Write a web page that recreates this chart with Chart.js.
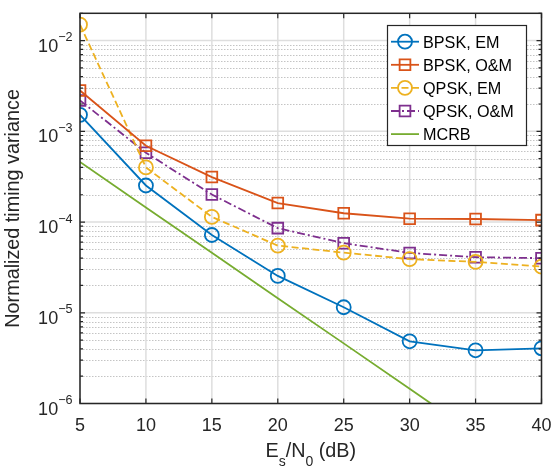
<!DOCTYPE html>
<html><head><meta charset="utf-8">
<script src="https://cdn.jsdelivr.net/npm/chart.js@4/dist/chart.umd.min.js"></script>
<style>html,body{margin:0;padding:0;background:#fff}#wrap{width:553px;height:467px;position:relative}</style>
</head><body><div id="wrap"><canvas id="c" width="553" height="467"></canvas></div>
<script>
// ---- data ----
const snrDb   = [5, 10, 15, 20, 25, 30, 35, 40];
const bpskEM  = [1.52e-3, 2.53e-4, 7.2e-5, 2.55e-5, 1.15e-5, 4.85e-6, 3.86e-6, 4.06e-6];
const bpskOM  = [2.82e-3, 6.93e-4, 3.13e-4, 1.62e-4, 1.25e-4, 1.09e-4, 1.08e-4, 1.05e-4];
const qpskEM  = [1.50e-2, 4.0e-4, 1.14e-4, 5.5e-5, 4.6e-5, 3.9e-5, 3.64e-5, 3.23e-5];
const qpskOM  = [2.19e-3, 5.81e-4, 2.01e-4, 8.57e-5, 5.85e-5, 4.57e-5, 4.10e-5, 4.0e-5];
const mcrb    = [4.6e-4, 1.45e-4, 4.6e-5, 1.45e-5, 4.6e-6, 1.45e-6, 4.6e-7, 1.45e-7];
const seriesNames = ['BPSK, EM', 'BPSK, O&M', 'QPSK, EM', 'QPSK, O&M', 'MCRB'];
const xTickValues = [5, 10, 15, 20, 25, 30, 35, 40];
const yTickExponents = [-6, -5, -4, -3, -2];
const xTitleParts = [['E', 0], ['s', 1], ['/N', 0], ['0', 1], [' (dB)', 0]];
const yTitle = 'Normalized timing variance';

// ---- styling ----
const FONT = "'Liberation Sans', Arial, Helvetica, sans-serif";
const TXT = '#262626';
const styles = [
  {color:'#0072BD', marker:'circle', dash:[]},
  {color:'#D95319', marker:'rect', dash:[]},
  {color:'#EDB120', marker:'circle', dash:[7,3.5]},
  {color:'#7E2F8E', marker:'rect', dash:[8,3,2,3]},
  {color:'#77AC30', marker:null, dash:[]}
];
const allSeries = [bpskEM, bpskOM, qpskEM, qpskOM, mcrb];
const LW = 1.8, CIRC_R = 7, RECT_R = 7.6;

const datasets = allSeries.map((vals, i) => ({
  label: seriesNames[i],
  data: snrDb.map((x, j) => ({x: x, y: vals[j]})),
  borderColor: styles[i].color,
  backgroundColor: 'rgba(0,0,0,0)',
  borderWidth: LW,
  borderDash: styles[i].dash,
  pointStyle: styles[i].marker || 'circle',
  pointRadius: styles[i].marker ? (styles[i].marker === 'rect' ? RECT_R : CIRC_R) : 0,
  pointBorderWidth: LW,
  pointBorderColor: styles[i].color,
  pointBackgroundColor: 'rgba(0,0,0,0)',
  pointHoverRadius: styles[i].marker ? (styles[i].marker === 'rect' ? RECT_R : CIRC_R) : 0,
  tension: 0,
  fill: false,
  clip: styles[i].marker ? undefined : 0
}));

function marker(ctx, type, x, y, color) {
  if (!type) return;
  ctx.save();
  ctx.strokeStyle = color; ctx.lineWidth = LW; ctx.setLineDash([]);
  ctx.beginPath();
  if (type === 'circle') ctx.arc(x, y, CIRC_R, 0, Math.PI * 2);
  else { const s = Math.SQRT1_2 * RECT_R; ctx.rect(x - s, y - s, 2 * s, 2 * s); }
  ctx.stroke();
  ctx.restore();
}

const matlabAxes = {
  id: 'matlabAxes',
  beforeDatasetsDraw(chart) {
    const {ctx, chartArea: a, scales: {x: xs, y: ys}} = chart;
    ctx.save();
    // minor y grid (dotted)
    ctx.strokeStyle = '#c4c4c4'; ctx.lineWidth = 1; ctx.setLineDash([1.5, 1.5]);
    yTickExponents.forEach(e => {
      for (let m = 2; m <= 9; m++) {
        const v = m * Math.pow(10, e);
        if (v >= ys.max) continue;
        const y = Math.round(ys.getPixelForValue(v)) + 0.5;
        ctx.beginPath(); ctx.moveTo(a.left, y); ctx.lineTo(a.right, y); ctx.stroke();
      }
    });
    // major grid (solid)
    ctx.setLineDash([]); ctx.strokeStyle = '#dedede'; ctx.lineWidth = 1.5;
    yTickExponents.forEach(e => {
      const y = ys.getPixelForValue(Math.pow(10, e));
      ctx.beginPath(); ctx.moveTo(a.left, y); ctx.lineTo(a.right, y); ctx.stroke();
    });
    xTickValues.forEach(t => {
      const x = xs.getPixelForValue(t);
      ctx.beginPath(); ctx.moveTo(x, a.top); ctx.lineTo(x, a.bottom); ctx.stroke();
    });
    ctx.restore();
  },
  afterDatasetsDraw(chart) {
    const {ctx, chartArea: a, scales: {x: xs, y: ys}} = chart;
    ctx.save();
    ctx.strokeStyle = TXT; ctx.lineWidth = 1.5; ctx.setLineDash([]);
    ctx.strokeRect(a.left, a.top, a.right - a.left, a.bottom - a.top);
    ctx.lineWidth = 1.2;
    // x ticks (bottom and top, inward)
    xTickValues.forEach(t => {
      const x = xs.getPixelForValue(t);
      ctx.beginPath();
      ctx.moveTo(x, a.bottom); ctx.lineTo(x, a.bottom - 5);
      ctx.moveTo(x, a.top); ctx.lineTo(x, a.top + 5);
      ctx.stroke();
    });
    // y ticks major and minor (left and right, inward)
    yTickExponents.forEach(e => {
      for (let m = 1; m <= 9; m++) {
        const v = m * Math.pow(10, e);
        if (v > ys.max) continue;
        const y = ys.getPixelForValue(v);
        const len = m === 1 ? 5 : 3;
        ctx.beginPath();
        ctx.moveTo(a.left, y); ctx.lineTo(a.left + len, y);
        ctx.moveTo(a.right, y); ctx.lineTo(a.right - len, y);
        ctx.stroke();
      }
    });
    // tick labels
    ctx.fillStyle = TXT;
    ctx.font = '18px ' + FONT; ctx.textAlign = 'center'; ctx.textBaseline = 'alphabetic';
    xTickValues.forEach(t => ctx.fillText(String(t), xs.getPixelForValue(t), a.bottom + 27.5));
    yTickExponents.forEach(e => {
      const y = ys.getPixelForValue(Math.pow(10, e));
      const sup = '\u2212' + Math.abs(e);
      ctx.textAlign = 'right';
      ctx.font = '12.6px ' + FONT;
      const rx = a.left - 7.5;
      ctx.fillText(sup, rx, y + 0.5);
      const w = ctx.measureText(sup).width;
      ctx.font = '18px ' + FONT;
      ctx.fillText('10', rx - w, y + 11);
    });
    // x title with subscripts
    const big = '19.8px ' + FONT, small = '14px ' + FONT;
    let total = 0;
    xTitleParts.forEach(([s, sub]) => { ctx.font = sub ? small : big; total += ctx.measureText(s).width; });
    let cx = (a.left + a.right) / 2 - total / 2;
    const by = a.bottom + 53.2;
    ctx.textAlign = 'left';
    xTitleParts.forEach(([s, sub]) => {
      ctx.font = sub ? small : big;
      ctx.fillText(s, cx, by + (sub ? 9 : 0));
      cx += ctx.measureText(s).width;
    });
    // y title
    ctx.save();
    ctx.translate(19, (a.top + a.bottom) / 2);
    ctx.rotate(-Math.PI / 2);
    ctx.font = big; ctx.textAlign = 'center';
    ctx.fillText(yTitle, 0, 0);
    ctx.restore();
    ctx.restore();
  },
  afterDraw(chart) {
    const ctx = chart.ctx;
    ctx.save();
    const L = 387, T = 25, R = 527, B = 146;
    ctx.fillStyle = '#fff'; ctx.fillRect(L, T, R - L, B - T);
    ctx.strokeStyle = TXT; ctx.lineWidth = 1.2; ctx.strokeRect(L + 0.5, T + 0.5, R - L - 1, B - T - 1);
    ctx.font = '16.2px ' + FONT; ctx.textAlign = 'left'; ctx.textBaseline = 'alphabetic';
    seriesNames.forEach((name, i) => {
      const cy = 41.7 + i * 23.1;
      const st = styles[i];
      ctx.strokeStyle = st.color; ctx.lineWidth = LW; ctx.setLineDash(st.dash);
      ctx.beginPath(); ctx.moveTo(391, cy); ctx.lineTo(419, cy); ctx.stroke();
      ctx.setLineDash([]);
      marker(ctx, st.marker, 405, cy, st.color);
      ctx.fillStyle = '#000';
      ctx.fillText(name, 423, cy + 5.8);
    });
    ctx.restore();
  }
};

new Chart(document.getElementById('c'), {
  type: 'line',
  data: {datasets},
  options: {
    responsive: false,
    animation: false,
    devicePixelRatio: 1,
    layout: {padding: {left: 80, right: 11.5, top: 13.3, bottom: 63.5}},
    scales: {
      x: {type: 'linear', min: 5, max: 40, display: false},
      y: {type: 'logarithmic', min: 1e-6, max: 0.02, display: false}
    },
    plugins: {legend: {display: false}, tooltip: {enabled: false}}
  },
  plugins: [matlabAxes]
});
</script>
</body></html>
